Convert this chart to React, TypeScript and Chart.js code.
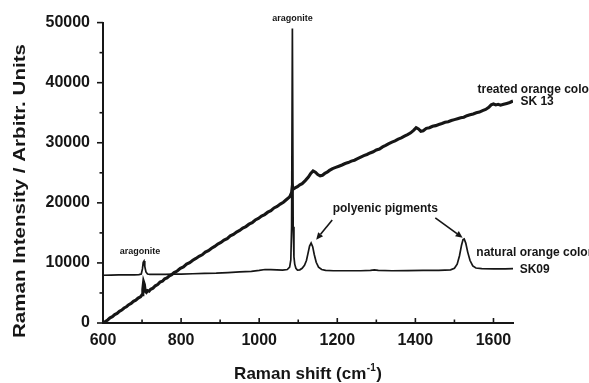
import React, { useEffect, useRef } from 'react';
import { Chart, registerables } from 'chart.js';

Chart.register(...registerables);

// ---- Data ----
const treatedShift = [
  600, 606, 612, 618, 624, 630, 636, 642, 648, 654, 660, 666, 672, 678, 684, 690, 696, 700, 702, 704,
  706, 708, 711, 714, 718, 722, 728, 734, 740, 746, 752, 758, 764, 770, 776, 782, 790, 798, 806, 814,
  822, 830, 838, 846, 854, 862, 870, 878, 886, 894, 902, 910, 918, 926, 934, 942, 950, 958, 966, 974,
  982, 990, 998, 1006, 1014, 1022, 1030, 1038, 1046, 1054, 1062, 1070, 1078, 1083, 1085, 1087, 1092, 1098, 1104, 1110,
  1118, 1126, 1132, 1138, 1144, 1150, 1156, 1162, 1168, 1174, 1180, 1188, 1196, 1204, 1212, 1220, 1228, 1236, 1244, 1252,
  1260, 1268, 1276, 1284, 1292, 1300, 1308, 1316, 1324, 1332, 1340, 1348, 1356, 1364, 1372, 1380, 1388, 1396, 1402, 1408,
  1414, 1420, 1428, 1436, 1444, 1452, 1460, 1468, 1476, 1484, 1492, 1500, 1508, 1516, 1524, 1532, 1540, 1548, 1556, 1564,
  1572, 1580, 1588, 1594, 1600, 1606, 1612, 1618, 1626, 1634, 1642, 1650,
];
const treatedIntensity = [
  0, 250, 500, 850, 1050, 1400, 1600, 1950, 2150, 2500, 2700, 3050, 3250, 3600, 3800, 4150, 4350, 4700, 5600, 6800,
  6400, 5300, 5100, 5400, 5300, 5600, 5800, 6200, 6400, 6800, 6950, 7350, 7500, 7850, 8050, 8400, 8650, 9100, 9350, 9800,
  10050, 10450, 10750, 11100, 11350, 11800, 12050, 12450, 12750, 13150, 13400, 13800, 14050, 14500, 14750, 15150, 15400, 15800, 16050, 16450,
  16700, 17150, 17400, 17800, 18050, 18450, 18700, 19150, 19400, 19800, 20100, 20550, 21000, 21700, 22800, 22300, 22500, 22700, 23000, 23200,
  23700, 24300, 24900, 25300, 25100, 24700, 24500, 24600, 24900, 25100, 25400, 25700, 25900, 26100, 26300, 26550, 26700, 26950, 27100, 27350,
  27600, 27850, 28050, 28300, 28500, 28800, 28950, 29300, 29550, 29850, 30100, 30300, 30600, 30800, 31100, 31350, 31650, 32100, 32500, 32300,
  31900, 32000, 32400, 32500, 32750, 32850, 33050, 33200, 33400, 33500, 33700, 33850, 34000, 34150, 34250, 34500, 34650, 34800, 35000, 35100,
  35350, 35550, 35900, 36300, 36450, 36300, 36400, 36250, 36400, 36550, 36700, 36950,
];

const naturalShift = [
  600, 620, 640, 660, 680, 692, 698, 701, 703, 705, 707, 710, 714, 720, 740, 760, 780, 800, 830, 860,
  890, 920, 950, 980, 1000, 1015, 1030, 1045, 1060, 1072, 1078, 1081, 1083, 1085, 1087, 1089, 1091, 1094, 1098,
  1104, 1110, 1116, 1121, 1125, 1129, 1133, 1137, 1141, 1146, 1152, 1160, 1170, 1190, 1220, 1260, 1285, 1295, 1305, 1340,
  1380, 1420, 1460, 1490, 1500, 1507, 1513, 1518, 1522, 1525, 1529, 1534, 1540, 1547, 1555, 1570, 1600, 1630, 1650,
];
const naturalIntensity = [
  7950, 7980, 8000, 8000, 8020, 8050, 8150, 9000, 10100, 10300, 9400, 8500, 8150, 8080, 8080, 8100, 8120, 8150, 8200, 8250,
  8300, 8400, 8500, 8600, 8750, 8900, 8900, 8850, 8800, 8900, 9300, 10500, 16000, 49000, 16000, 11000, 9800, 9100, 8800,
  8850, 9100, 9600, 10400, 11600, 12800, 13300, 12700, 11400, 10100, 9300, 8900, 8750, 8700, 8700, 8700, 8750, 8850, 8750, 8700,
  8720, 8750, 8750, 8850, 9100, 9800, 11200, 12900, 13900, 14000, 13300, 11800, 10400, 9500, 9150, 9050, 9000, 9000, 9050,
];

const xMin = 600;
const xMax = 1650;
const xMajorStep = 200;
const xMinorStep = 100;
const yMin = 0;
const yMax = 50000;
const yMajorStep = 10000;
const yMinorStep = 5000;

const xTitle = 'Raman shift (cm';
const xTitleSup = '-1';
const xTitleEnd = ')';
const yTitle = 'Raman Intensity / Arbitr. Units';

const FONT = "'Liberation Sans', Arial, Helvetica, sans-serif";
const INK = '#161616';

const decorPlugin = {
  id: 'decor',
  afterDraw(chart: any) {
    const { ctx, chartArea: ca, scales } = chart;
    const xs = scales.x;
    const ys = scales.y;
    ctx.save();
    ctx.strokeStyle = INK;
    ctx.lineWidth = 1.6;
    for (let v = xMin; v <= xMax; v += xMinorStep) {
      const px = xs.getPixelForValue(v);
      const major = (v - xMin) % xMajorStep === 0;
      ctx.beginPath();
      ctx.moveTo(px, ca.bottom + 1);
      ctx.lineTo(px, ca.bottom - (major ? 5 : 3.5));
      ctx.stroke();
    }
    for (let v = yMin; v <= yMax; v += yMinorStep) {
      const py = ys.getPixelForValue(v);
      const major = v % yMajorStep === 0;
      ctx.beginPath();
      ctx.moveTo(ca.left, py);
      ctx.lineTo(ca.left - (major ? 6 : 3.5), py);
      ctx.stroke();
    }

    ctx.fillStyle = INK;
    ctx.save();
    ctx.font = `bold 17px ${FONT}`;
    const w = ctx.measureText(yTitle).width;
    ctx.translate(25, 191);
    ctx.rotate(-Math.PI / 2);
    ctx.scale(294 / w, 1);
    ctx.textAlign = 'center';
    ctx.textBaseline = 'alphabetic';
    ctx.fillText(yTitle, 0, 0);
    ctx.restore();

    ctx.font = `bold 17px ${FONT}`;
    const w1 = ctx.measureText(xTitle).width;
    const w3 = ctx.measureText(xTitleEnd).width;
    ctx.font = `bold 10px ${FONT}`;
    const w2 = ctx.measureText(xTitleSup).width;
    const total = w1 + w2 + w3 + 1;
    let tx = (ca.left + ca.right) / 2 - total / 2;
    const tb = 379;
    ctx.textAlign = 'left';
    ctx.textBaseline = 'alphabetic';
    ctx.font = `bold 17px ${FONT}`;
    ctx.fillText(xTitle, tx, tb);
    tx += w1 + 0.5;
    ctx.font = `bold 10px ${FONT}`;
    ctx.fillText(xTitleSup, tx, tb - 8);
    tx += w2 + 0.5;
    ctx.font = `bold 17px ${FONT}`;
    ctx.fillText(xTitleEnd, tx, tb);

    const P = (xv: number, yv: number) => [xs.getPixelForValue(xv), ys.getPixelForValue(yv)];
    const label = (text: string, xv: number, yv: number, size: number, align: CanvasTextAlign) => {
      const [px, py] = P(xv, yv);
      ctx.font = `bold ${size}px ${FONT}`;
      ctx.textAlign = align;
      ctx.textBaseline = 'middle';
      ctx.fillText(text, px, py);
    };
    label('aragonite', 1085, 50600, 9, 'center');
    label('aragonite', 695, 11900, 9, 'center');
    label('polyenic pigments', 1323, 19100, 12, 'center');
    label('natural orange color', 1556, 11700, 12, 'left');
    label('SK09', 1667, 8900, 12, 'left');
    label('treated orange color', 1559, 38900, 12, 'left');
    label('SK 13', 1669, 36800, 12, 'left');

    const arrow = (x0: number, y0: number, x1: number, y1: number) => {
      const [ax, ay] = P(x0, y0);
      const [bx, by] = P(x1, y1);
      const ang = Math.atan2(by - ay, bx - ax);
      const hl = 7;
      const hw = 3.2;
      const bxs = bx - hl * Math.cos(ang);
      const bys = by - hl * Math.sin(ang);
      ctx.lineWidth = 1.6;
      ctx.beginPath();
      ctx.moveTo(ax, ay);
      ctx.lineTo(bxs, bys);
      ctx.stroke();
      ctx.beginPath();
      ctx.moveTo(bx, by);
      ctx.lineTo(bxs + hw * Math.sin(ang), bys - hw * Math.cos(ang));
      ctx.lineTo(bxs - hw * Math.sin(ang), bys + hw * Math.cos(ang));
      ctx.closePath();
      ctx.fill();
    };
    arrow(1187, 17160, 1146, 13860);
    arrow(1451, 17490, 1521, 14190);
    ctx.restore();
  },
};

export default function App() {
  const ref = useRef<HTMLCanvasElement | null>(null);
  useEffect(() => {
    if (!ref.current) return;
    const treated = treatedShift.map((x, i) => ({ x, y: treatedIntensity[i] }));
    const natural = naturalShift.map((x, i) => ({ x, y: naturalIntensity[i] }));
    const tickFont = { family: FONT, size: 16, weight: 'bold' as const };
    const chart = new Chart(ref.current, {
      type: 'line',
      data: {
        datasets: [
          {
            label: 'treated orange color SK 13',
            data: treated,
            borderColor: INK,
            borderWidth: 3.1,
            pointRadius: 0,
            tension: 0,
            fill: false,
          },
          {
            label: 'natural orange color SK09',
            data: natural,
            borderColor: INK,
            borderWidth: 1.7,
            pointRadius: 0,
            tension: 0,
            fill: false,
          },
        ],
      },
      options: {
        animation: false,
        responsive: false,
        events: [],
        layout: { padding: { left: 0, top: 20, right: 76, bottom: 0 } },
        plugins: { legend: { display: false }, tooltip: { enabled: false } },
        scales: {
          x: {
            type: 'linear',
            min: xMin,
            max: xMax,
            afterFit: (s: any) => { s.height = 60; },
            grid: { display: false, drawTicks: false },
            border: { display: true, color: INK, width: 2 },
            ticks: {
              stepSize: xMajorStep,
              includeBounds: false,
              padding: 8,
              color: INK,
              font: tickFont,
              maxRotation: 0,
              autoSkip: false,
              callback: (v: any) => String(v),
            },
          },
          y: {
            type: 'linear',
            min: yMin,
            max: yMax,
            afterFit: (s: any) => { s.width = 103; },
            grid: { display: false, drawTicks: false },
            border: { display: true, color: INK, width: 2 },
            ticks: {
              stepSize: yMajorStep,
              padding: 13,
              color: INK,
              font: tickFont,
              autoSkip: false,
              callback: (v: any) => String(v),
            },
          },
        },
      },
      plugins: [decorPlugin],
    });
    return () => chart.destroy();
  }, []);
  return (
    <div style={{ position: 'fixed', left: 0, top: 0, width: 589, height: 383, background: '#fff' }}>
      <canvas ref={ref} width={589} height={383} style={{ display: 'block' }} />
    </div>
  );
}
